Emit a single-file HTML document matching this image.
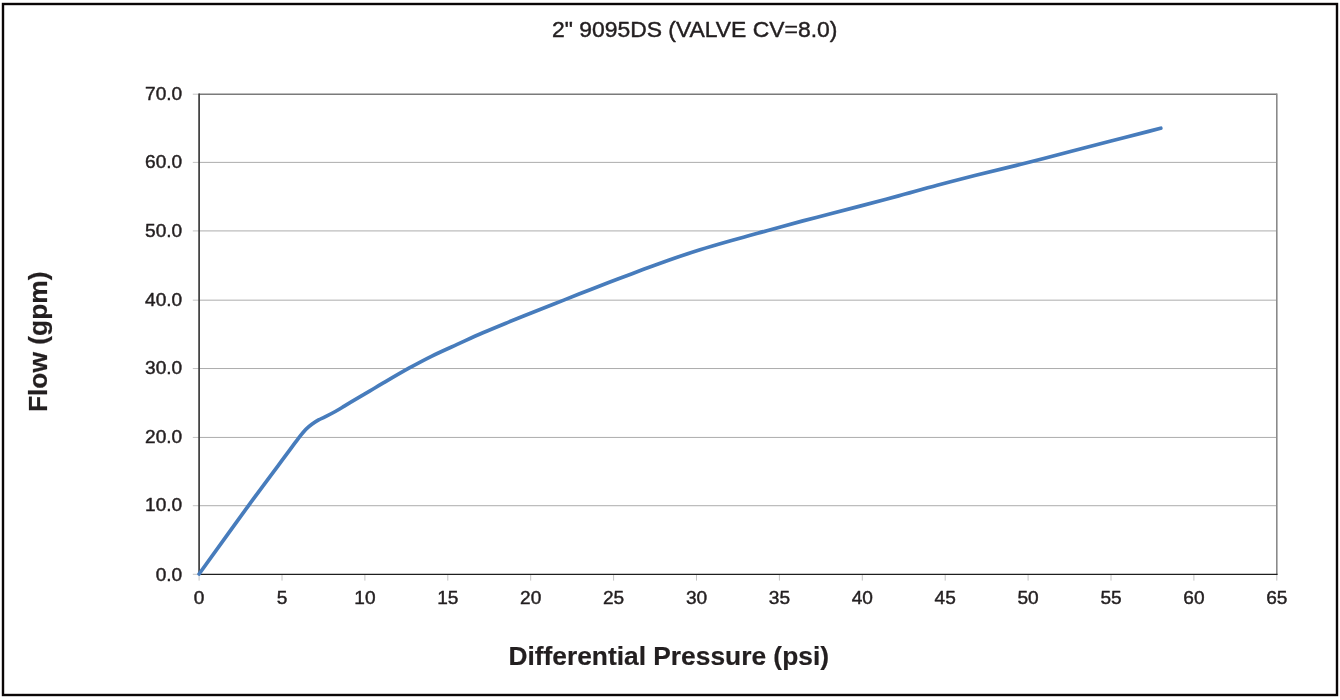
<!DOCTYPE html>
<html lang="en">
<head>
<meta charset="utf-8">
<title>2" 9095DS (VALVE CV=8.0)</title>
<style>
html,body{margin:0;padding:0;background:#fff;}
body{width:1340px;height:700px;position:relative;overflow:hidden;font-family:"Liberation Sans",Arial,Helvetica,sans-serif;}
</style>
</head>
<body>
<svg width="1340" height="700" viewBox="0 0 1340 700" style="display:block;position:absolute;left:0;top:0">
<rect x="0" y="0" width="1340" height="700" fill="#fff"/>
<rect x="3" y="4" width="1334" height="691" fill="none" stroke="#0a0606" stroke-width="2.4"/>
<line x1="199.1" y1="505.71" x2="1276.8" y2="505.71" stroke="#acacac" stroke-width="1.0"/>
<line x1="199.1" y1="437.43" x2="1276.8" y2="437.43" stroke="#acacac" stroke-width="1.0"/>
<line x1="199.1" y1="368.54" x2="1276.8" y2="368.54" stroke="#acacac" stroke-width="1.0"/>
<line x1="199.1" y1="300.16" x2="1276.8" y2="300.16" stroke="#acacac" stroke-width="1.0"/>
<line x1="199.1" y1="230.92" x2="1276.8" y2="230.92" stroke="#acacac" stroke-width="1.0"/>
<line x1="199.1" y1="162.39" x2="1276.8" y2="162.39" stroke="#acacac" stroke-width="1.0"/>
<line x1="199.1" y1="94.20" x2="1276.8" y2="94.20" stroke="#7a7a7a" stroke-width="1.6"/>
<line x1="192.8" y1="574.30" x2="199.1" y2="574.30" stroke="#c4c4c4" stroke-width="1"/>
<line x1="192.8" y1="505.71" x2="199.1" y2="505.71" stroke="#c4c4c4" stroke-width="1"/>
<line x1="192.8" y1="437.43" x2="199.1" y2="437.43" stroke="#c4c4c4" stroke-width="1"/>
<line x1="192.8" y1="368.54" x2="199.1" y2="368.54" stroke="#c4c4c4" stroke-width="1"/>
<line x1="192.8" y1="300.16" x2="199.1" y2="300.16" stroke="#c4c4c4" stroke-width="1"/>
<line x1="192.8" y1="230.92" x2="199.1" y2="230.92" stroke="#c4c4c4" stroke-width="1"/>
<line x1="192.8" y1="162.39" x2="199.1" y2="162.39" stroke="#c4c4c4" stroke-width="1"/>
<line x1="192.8" y1="94.20" x2="199.1" y2="94.20" stroke="#c4c4c4" stroke-width="1"/>
<line x1="199.10" y1="574.3" x2="199.10" y2="580.6" stroke="#c4c4c4" stroke-width="1"/>
<line x1="282.00" y1="574.3" x2="282.00" y2="580.6" stroke="#c4c4c4" stroke-width="1"/>
<line x1="364.90" y1="574.3" x2="364.90" y2="580.6" stroke="#c4c4c4" stroke-width="1"/>
<line x1="447.80" y1="574.3" x2="447.80" y2="580.6" stroke="#c4c4c4" stroke-width="1"/>
<line x1="530.70" y1="574.3" x2="530.70" y2="580.6" stroke="#c4c4c4" stroke-width="1"/>
<line x1="613.60" y1="574.3" x2="613.60" y2="580.6" stroke="#c4c4c4" stroke-width="1"/>
<line x1="696.50" y1="574.3" x2="696.50" y2="580.6" stroke="#c4c4c4" stroke-width="1"/>
<line x1="779.40" y1="574.3" x2="779.40" y2="580.6" stroke="#c4c4c4" stroke-width="1"/>
<line x1="862.30" y1="574.3" x2="862.30" y2="580.6" stroke="#c4c4c4" stroke-width="1"/>
<line x1="945.20" y1="574.3" x2="945.20" y2="580.6" stroke="#c4c4c4" stroke-width="1"/>
<line x1="1028.10" y1="574.3" x2="1028.10" y2="580.6" stroke="#c4c4c4" stroke-width="1"/>
<line x1="1111.00" y1="574.3" x2="1111.00" y2="580.6" stroke="#c4c4c4" stroke-width="1"/>
<line x1="1193.90" y1="574.3" x2="1193.90" y2="580.6" stroke="#c4c4c4" stroke-width="1"/>
<line x1="1276.80" y1="574.3" x2="1276.80" y2="580.6" stroke="#c4c4c4" stroke-width="1"/>
<line x1="1276.80" y1="93.5" x2="1276.80" y2="574.3" stroke="#8a8a8a" stroke-width="1.6"/>
<line x1="199.10" y1="93.5" x2="199.10" y2="574.9" stroke="#3c3c3c" stroke-width="1.7"/>
<line x1="198.30" y1="574.30" x2="1277.60" y2="574.30" stroke="#1e1e1e" stroke-width="1.3"/>
<path d="M199.1,574.0 C207.4,562.5 233.5,526.1 248.7,505.3 C263.9,484.5 281.8,460.8 290.2,449.4 C298.6,438.0 296.7,440.5 299.3,437.2 C301.9,433.9 303.6,431.7 305.7,429.5 C307.8,427.3 310.0,425.6 312.2,424.0 C314.4,422.4 316.5,421.1 318.6,419.9 C320.7,418.7 322.2,418.3 325.0,416.9 C327.8,415.5 332.1,413.3 335.3,411.5 C338.5,409.7 340.7,408.3 344.3,406.1 C347.9,403.9 352.9,400.9 357.2,398.4 C361.5,395.9 365.7,393.4 370.0,390.9 C374.3,388.4 376.4,387.0 382.9,383.2 C389.4,379.4 400.8,372.7 408.9,368.2 C417.0,363.7 423.3,360.3 431.4,356.3 C439.4,352.3 448.6,348.3 457.2,344.4 C465.8,340.5 474.3,336.5 482.9,332.8 C491.5,329.1 499.1,326.0 508.6,322.1 C518.1,318.2 530.8,313.2 540.0,309.5 C549.2,305.8 555.2,303.5 563.8,300.1 C572.4,296.7 582.5,292.7 591.4,289.2 C600.3,285.7 608.6,282.6 617.2,279.3 C625.8,276.0 634.3,272.8 642.9,269.6 C651.5,266.4 659.1,263.5 668.6,260.2 C678.1,256.9 689.2,253.2 700.0,249.8 C710.8,246.4 722.2,243.2 733.4,240.0 C744.5,236.8 755.3,233.9 766.9,230.7 C778.5,227.5 792.6,223.7 802.9,220.9 C813.2,218.2 819.1,216.7 828.6,214.2 C838.1,211.7 848.3,209.1 860.0,206.1 C871.7,203.1 885.7,199.4 898.6,195.9 C911.5,192.4 924.3,188.7 937.2,185.3 C950.1,181.9 962.0,178.8 975.8,175.3 C989.6,171.8 1004.1,168.5 1020.0,164.5 C1035.9,160.5 1056.4,155.2 1071.4,151.3 C1086.4,147.4 1097.1,144.6 1110.0,141.3 C1122.9,138.0 1140.1,133.6 1148.6,131.4 C1157.1,129.2 1158.8,128.7 1160.8,128.2" fill="none" stroke="#477cbc" stroke-width="3.7" stroke-linecap="round" stroke-linejoin="round"/>
<text transform="translate(182.2,580.8) scale(1,0.965)" font-family="Liberation Sans, Arial, Helvetica, sans-serif" stroke="#231f20" stroke-width="0.45" stroke-linejoin="round" font-size="19.1" fill="#231f20" text-anchor="end">0.0</text>
<text transform="translate(182.2,511.0) scale(1,0.965)" font-family="Liberation Sans, Arial, Helvetica, sans-serif" stroke="#231f20" stroke-width="0.45" stroke-linejoin="round" font-size="19.1" fill="#231f20" text-anchor="end">10.0</text>
<text transform="translate(182.2,443.1) scale(1,0.965)" font-family="Liberation Sans, Arial, Helvetica, sans-serif" stroke="#231f20" stroke-width="0.45" stroke-linejoin="round" font-size="19.1" fill="#231f20" text-anchor="end">20.0</text>
<text transform="translate(182.2,373.8) scale(1,0.965)" font-family="Liberation Sans, Arial, Helvetica, sans-serif" stroke="#231f20" stroke-width="0.45" stroke-linejoin="round" font-size="19.1" fill="#231f20" text-anchor="end">30.0</text>
<text transform="translate(182.2,305.8) scale(1,0.965)" font-family="Liberation Sans, Arial, Helvetica, sans-serif" stroke="#231f20" stroke-width="0.45" stroke-linejoin="round" font-size="19.1" fill="#231f20" text-anchor="end">40.0</text>
<text transform="translate(182.2,237.2) scale(1,0.965)" font-family="Liberation Sans, Arial, Helvetica, sans-serif" stroke="#231f20" stroke-width="0.45" stroke-linejoin="round" font-size="19.1" fill="#231f20" text-anchor="end">50.0</text>
<text transform="translate(182.2,167.6) scale(1,0.965)" font-family="Liberation Sans, Arial, Helvetica, sans-serif" stroke="#231f20" stroke-width="0.45" stroke-linejoin="round" font-size="19.1" fill="#231f20" text-anchor="end">60.0</text>
<text transform="translate(182.2,100.0) scale(1,0.965)" font-family="Liberation Sans, Arial, Helvetica, sans-serif" stroke="#231f20" stroke-width="0.45" stroke-linejoin="round" font-size="19.1" fill="#231f20" text-anchor="end">70.0</text>
<text transform="translate(199.1,603.6) scale(1,0.965)" font-family="Liberation Sans, Arial, Helvetica, sans-serif" stroke="#231f20" stroke-width="0.45" stroke-linejoin="round" font-size="19.1" fill="#231f20" text-anchor="middle">0</text>
<text transform="translate(282.0,603.6) scale(1,0.965)" font-family="Liberation Sans, Arial, Helvetica, sans-serif" stroke="#231f20" stroke-width="0.45" stroke-linejoin="round" font-size="19.1" fill="#231f20" text-anchor="middle">5</text>
<text transform="translate(364.9,603.6) scale(1,0.965)" font-family="Liberation Sans, Arial, Helvetica, sans-serif" stroke="#231f20" stroke-width="0.45" stroke-linejoin="round" font-size="19.1" fill="#231f20" text-anchor="middle">10</text>
<text transform="translate(447.8,603.6) scale(1,0.965)" font-family="Liberation Sans, Arial, Helvetica, sans-serif" stroke="#231f20" stroke-width="0.45" stroke-linejoin="round" font-size="19.1" fill="#231f20" text-anchor="middle">15</text>
<text transform="translate(530.7,603.6) scale(1,0.965)" font-family="Liberation Sans, Arial, Helvetica, sans-serif" stroke="#231f20" stroke-width="0.45" stroke-linejoin="round" font-size="19.1" fill="#231f20" text-anchor="middle">20</text>
<text transform="translate(613.6,603.6) scale(1,0.965)" font-family="Liberation Sans, Arial, Helvetica, sans-serif" stroke="#231f20" stroke-width="0.45" stroke-linejoin="round" font-size="19.1" fill="#231f20" text-anchor="middle">25</text>
<text transform="translate(696.5,603.6) scale(1,0.965)" font-family="Liberation Sans, Arial, Helvetica, sans-serif" stroke="#231f20" stroke-width="0.45" stroke-linejoin="round" font-size="19.1" fill="#231f20" text-anchor="middle">30</text>
<text transform="translate(779.4,603.6) scale(1,0.965)" font-family="Liberation Sans, Arial, Helvetica, sans-serif" stroke="#231f20" stroke-width="0.45" stroke-linejoin="round" font-size="19.1" fill="#231f20" text-anchor="middle">35</text>
<text transform="translate(862.3,603.6) scale(1,0.965)" font-family="Liberation Sans, Arial, Helvetica, sans-serif" stroke="#231f20" stroke-width="0.45" stroke-linejoin="round" font-size="19.1" fill="#231f20" text-anchor="middle">40</text>
<text transform="translate(945.2,603.6) scale(1,0.965)" font-family="Liberation Sans, Arial, Helvetica, sans-serif" stroke="#231f20" stroke-width="0.45" stroke-linejoin="round" font-size="19.1" fill="#231f20" text-anchor="middle">45</text>
<text transform="translate(1028.1,603.6) scale(1,0.965)" font-family="Liberation Sans, Arial, Helvetica, sans-serif" stroke="#231f20" stroke-width="0.45" stroke-linejoin="round" font-size="19.1" fill="#231f20" text-anchor="middle">50</text>
<text transform="translate(1111.0,603.6) scale(1,0.965)" font-family="Liberation Sans, Arial, Helvetica, sans-serif" stroke="#231f20" stroke-width="0.45" stroke-linejoin="round" font-size="19.1" fill="#231f20" text-anchor="middle">55</text>
<text transform="translate(1193.9,603.6) scale(1,0.965)" font-family="Liberation Sans, Arial, Helvetica, sans-serif" stroke="#231f20" stroke-width="0.45" stroke-linejoin="round" font-size="19.1" fill="#231f20" text-anchor="middle">60</text>
<text transform="translate(1276.8,603.6) scale(1,0.965)" font-family="Liberation Sans, Arial, Helvetica, sans-serif" stroke="#231f20" stroke-width="0.45" stroke-linejoin="round" font-size="19.1" fill="#231f20" text-anchor="middle">65</text>
<text x="694.7" y="37.3" font-family="Liberation Sans, Arial, Helvetica, sans-serif" stroke="#231f20" stroke-width="0.45" stroke-linejoin="round" font-size="22.9" fill="#231f20" text-anchor="middle">2&quot; 9095DS (VALVE CV=8.0)</text>
<text x="668.7" y="665" font-family="Liberation Sans, Arial, Helvetica, sans-serif" stroke="#231f20" stroke-width="0.2" stroke-linejoin="round" font-size="25.6" font-weight="bold" fill="#231f20" text-anchor="middle" textLength="320.6" lengthAdjust="spacingAndGlyphs">Differential Pressure (psi)</text>
<text transform="translate(46.9,341.8) rotate(-90)" font-family="Liberation Sans, Arial, Helvetica, sans-serif" stroke="#231f20" stroke-width="0.2" stroke-linejoin="round" font-size="25.6" font-weight="bold" fill="#231f20" text-anchor="middle" textLength="140.6" lengthAdjust="spacingAndGlyphs">Flow (gpm)</text>
</svg>
</body>
</html>
